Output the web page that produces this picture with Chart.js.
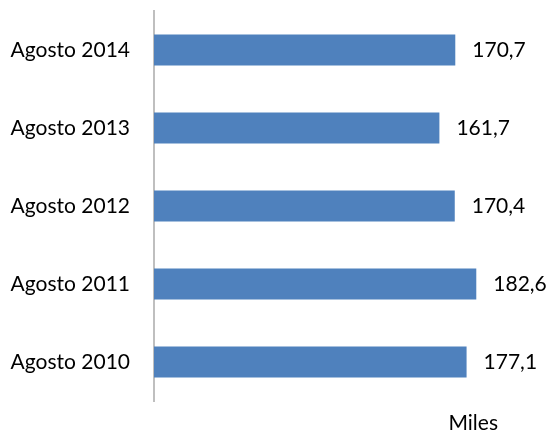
<!DOCTYPE html>
<html>
<head>
<meta charset="utf-8">
<script src="https://cdn.jsdelivr.net/npm/chart.js@4.4.1/dist/chart.umd.min.js"></script>
<style>
  html, body { margin: 0; padding: 0; background: #fff; }
  #wrap { width: 550px; height: 433px; }
</style>
</head>
<body>
<div id="wrap"><canvas id="myChart" width="550" height="433"></canvas></div>
<script>
var categories = ['Agosto 2014', 'Agosto 2013', 'Agosto 2012', 'Agosto 2011', 'Agosto 2010'];
var values = [170.7, 161.7, 170.4, 182.6, 177.1];
var axisTitle = 'Miles';

function formatValue(v) {
    return v.toFixed(1).replace('.', ',');
}

// value labels to the right of each bar, and the unit under the chart
var valueLabels = {
    id: 'valueLabels',
    afterDatasetsDraw: function (chart) {
        var ctx = chart.ctx;
        var meta = chart.getDatasetMeta(0);
        ctx.save();
        ctx.font = '21px Lato';
        ctx.fillStyle = '#000';
        ctx.textAlign = 'left';
        ctx.textBaseline = 'middle';
        meta.data.forEach(function (bar, i) {
            ctx.fillText(formatValue(values[i]), bar.x + 17, bar.y);
        });
        ctx.textAlign = 'right';
        ctx.textBaseline = 'alphabetic';
        ctx.fillText(axisTitle, chart.chartArea.right - 9, chart.height - 3);
        ctx.restore();
    }
};

var ctx = document.getElementById('myChart').getContext('2d');

var myChart = new Chart(ctx, {
    type: 'bar',
    data: {
        labels: categories,
        datasets: [{
            data: values,
            backgroundColor: '#4F81BD',
            borderWidth: 0,
            barPercentage: 0.5,
            categoryPercentage: 0.8
        }]
    },
    options: {
        indexAxis: 'y',
        responsive: false,
        animation: false,
        layout: {
            padding: { top: 11, right: 43, bottom: 32, left: 0 }
        },
        plugins: {
            legend: { display: false },
            tooltip: { enabled: false }
        },
        scales: {
            x: {
                display: false,
                min: 0,
                max: 200
            },
            y: {
                grid: { display: false },
                border: { display: true, color: '#BFBFBF', width: 2 },
                ticks: {
                    color: '#000',
                    font: { family: 'Lato', size: 21 },
                    padding: 16
                },
                afterFit: function (scale) {
                    scale.width = 154;
                    scale.paddingTop = 0;
                    scale.paddingBottom = 0;
                }
            }
        }
    },
    plugins: [valueLabels]
});
</script>
</body>
</html>
